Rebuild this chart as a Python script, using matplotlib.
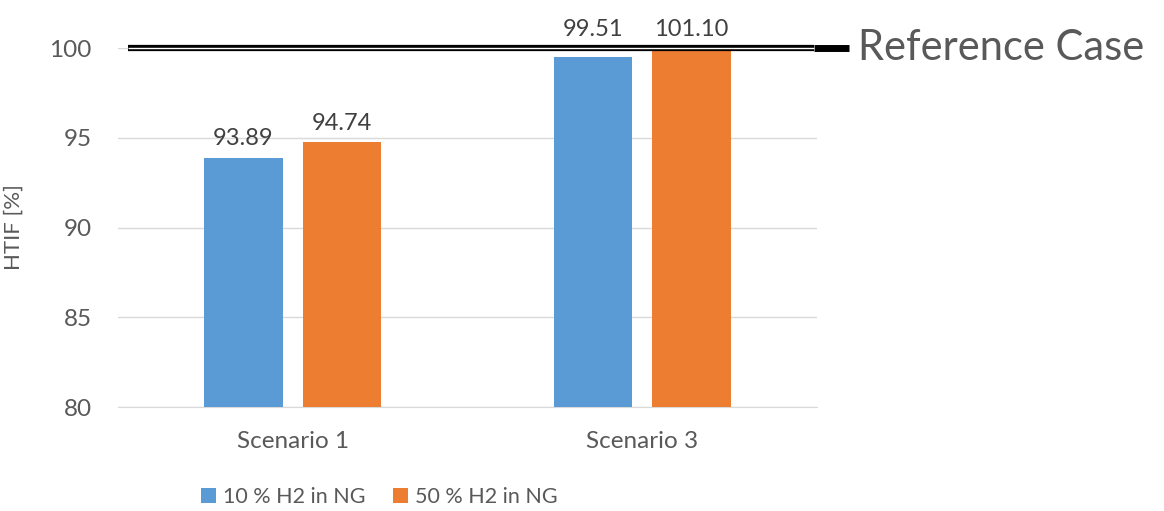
import matplotlib
matplotlib.use("Agg")
import matplotlib.pyplot as plt
import numpy as np
from matplotlib.patches import Patch

# Data
scenarios = ["Scenario 1", "Scenario 3"]
series_names = ["10 % H2 in NG", "50 % H2 in NG"]
h2_10 = [93.89, 99.51]
h2_50 = [94.74, 101.10]
reference_value = 100
y_ticks = [80, 85, 90, 95, 100]

colors = ["#5B9BD5", "#ED7D31"]
text_gray = "#595959"
label_gray = "#404040"

plt.rcParams["font.family"] = ["Lato", "DejaVu Sans"]

fig = plt.figure(figsize=(11.64, 5.11), dpi=100)
ax = fig.add_axes([0.1014, 0.2035, 0.6005, 0.7025])

x = np.arange(len(scenarios))
width = 0.224
offset = 0.141
y_min, y_max = 80, 100

for i, (vals, col) in enumerate(zip([h2_10, h2_50], colors)):
    xs = x + (offset if i else -offset)
    ax.bar(xs, vals, width=width, bottom=0, color=col, zorder=3)
    for xi, v in zip(xs, vals):
        # labels near the reference line sit above it
        anchor = y_max if v > y_max - 1 else v
        ax.annotate(f"{v:.2f}", (xi, anchor), xytext=(0, 6),
                    textcoords="offset points", ha="center", va="bottom",
                    fontsize=17, color=label_gray, annotation_clip=False)

ax.set_xlim(-0.5, 1.5)
ax.set_ylim(y_min, y_max)
ax.set_yticks(y_ticks)
ax.set_xticks(x)
ax.set_xticklabels(scenarios)
ax.yaxis.grid(True, color="#D9D9D9", linewidth=1.0, zorder=0)
ax.set_axisbelow(True)
for s in ["top", "right", "left"]:
    ax.spines[s].set_visible(False)
ax.spines["bottom"].set_color("#D9D9D9")
ax.tick_params(axis="both", length=0, labelsize=17.5, colors=text_gray)
ax.tick_params(axis="y", pad=19)
ax.tick_params(axis="x", pad=17)

ax.set_ylabel("HTIF [%]", fontsize=16, color=text_gray)
ax.yaxis.set_label_coords(-0.135, 0.5)

# Reference line: double black line across the plot, single thick leader to the label
trans = ax.get_yaxis_transform()
ax.plot([0.014, 0.995], [reference_value, reference_value], transform=trans,
        color="black", linewidth=4.5, solid_capstyle="butt", clip_on=False, zorder=5)
ax.plot([0.014, 0.995], [reference_value, reference_value], transform=trans,
        color="white", linewidth=1.0, solid_capstyle="butt", clip_on=False, zorder=6)
ax.plot([0.995, 1.046], [reference_value, reference_value], transform=trans,
        color="black", linewidth=5, solid_capstyle="butt", clip_on=False, zorder=5)
ax.text(1.058, reference_value, "Reference Case", transform=trans,
        ha="left", va="center", fontsize=30, color=text_gray)

handles = [Patch(facecolor=c, edgecolor="none") for c in colors]
fig.legend(handles, series_names, loc="center", bbox_to_anchor=(0.326, 0.027),
           ncol=2, frameon=False, fontsize=15.5, handlelength=0.7, handleheight=0.7,
           handletextpad=0.3, columnspacing=1.3, labelcolor=text_gray)

fig.savefig("out.png", dpi=100)
